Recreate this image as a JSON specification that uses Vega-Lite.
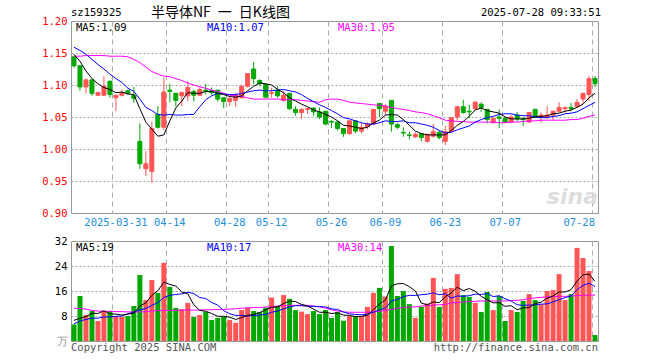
{
"$schema":"https://vega.github.io/schema/vega-lite/v6.json",
"background":"white",
"padding":{"left":41,"top":5,"right":0,"bottom":0},
"bounds":"flush",
"spacing":28,
"config":{"view":{"stroke":"#999999","strokeWidth":1},"axis":{"ticks":false,"domain":false,"labelFont":"DejaVu Sans Mono","labelFontSize":10.5,"gridColor":"#aaaaaa","labelOverlap":false}},
"datasets":{"k":[
{"d":"2025-03-20","o":1.144,"h":1.146,"l":1.127,"c":1.130,"v":5.3,"m5":1.148,"m10":1.159,"m30":1.145,"vm5":6.6,"vm10":5.5,"vm30":10.5},
{"d":"2025-03-21","o":1.130,"h":1.131,"l":1.091,"c":1.097,"v":14.4,"m5":1.137,"m10":1.154,"m30":1.145,"vm5":7.3,"vm10":6.4,"vm30":10.4},
{"d":"2025-03-24","o":1.097,"h":1.110,"l":1.087,"c":1.108,"v":8.3,"m5":1.122,"m10":1.148,"m30":1.146,"vm5":7.8,"vm10":6.9,"vm30":10.2},
{"d":"2025-03-25","o":1.108,"h":1.108,"l":1.083,"c":1.087,"v":9.6,"m5":1.110,"m10":1.140,"m30":1.146,"vm5":8.9,"vm10":7.3,"vm30":9.8},
{"d":"2025-03-26","o":1.084,"h":1.090,"l":1.083,"c":1.088,"v":6.4,"m5":1.102,"m10":1.132,"m30":1.146,"vm5":8.8,"vm10":7.3,"vm30":9.6},
{"d":"2025-03-27","o":1.084,"h":1.114,"l":1.083,"c":1.098,"v":9.6,"m5":1.096,"m10":1.125,"m30":1.146,"vm5":9.7,"vm10":7.7,"vm30":9.5},
{"d":"2025-03-28","o":1.106,"h":1.106,"l":1.080,"c":1.085,"v":9.6,"m5":1.093,"m10":1.117,"m30":1.145,"vm5":8.7,"vm10":7.7,"vm30":9.5},
{"d":"2025-03-31","o":1.080,"h":1.084,"l":1.059,"c":1.084,"v":8.0,"m5":1.088,"m10":1.110,"m30":1.145,"vm5":8.6,"vm10":7.9,"vm30":9.4},
{"d":"2025-04-01","o":1.084,"h":1.093,"l":1.082,"c":1.088,"v":7.7,"m5":1.089,"m10":1.104,"m30":1.145,"vm5":8.3,"vm10":8.0,"vm30":9.4},
{"d":"2025-04-02","o":1.091,"h":1.093,"l":1.084,"c":1.087,"v":8.0,"m5":1.086,"m10":1.095,"m30":1.144,"vm5":8.6,"vm10":8.7,"vm30":9.3},
{"d":"2025-04-03","o":1.084,"h":1.097,"l":1.072,"c":1.079,"v":11.2,"m5":1.085,"m10":1.090,"m30":1.140,"vm5":8.9,"vm10":9.3,"vm30":9.3},
{"d":"2025-04-07","o":1.012,"h":1.040,"l":0.969,"c":0.977,"v":21.1,"m5":1.063,"m10":1.078,"m30":1.135,"vm5":11.2,"vm10":9.95,"vm30":9.3},
{"d":"2025-04-08","o":0.969,"h":0.997,"l":0.958,"c":0.977,"v":13.1,"m5":1.042,"m10":1.065,"m30":1.128,"vm5":12.2,"vm10":10.4,"vm30":9.4},
{"d":"2025-04-09","o":0.965,"h":1.043,"l":0.947,"c":1.032,"v":19.5,"m5":1.031,"m10":1.060,"m30":1.121,"vm5":14.6,"vm10":11.4,"vm30":9.6},
{"d":"2025-04-10","o":1.054,"h":1.067,"l":1.032,"c":1.034,"v":15.4,"m5":1.020,"m10":1.054,"m30":1.117,"vm5":16.1,"vm10":12.3,"vm30":9.7},
{"d":"2025-04-11","o":1.034,"h":1.112,"l":1.029,"c":1.089,"v":25.0,"m5":1.022,"m10":1.053,"m30":1.114,"vm5":18.8,"vm10":13.9,"vm30":9.8},
{"d":"2025-04-14","o":1.092,"h":1.102,"l":1.073,"c":1.090,"v":17.3,"m5":1.044,"m10":1.054,"m30":1.113,"vm5":18.1,"vm10":14.6,"vm30":9.8},
{"d":"2025-04-15","o":1.087,"h":1.087,"l":1.067,"c":1.076,"v":10.6,"m5":1.064,"m10":1.053,"m30":1.110,"vm5":17.6,"vm10":14.9,"vm30":9.8},
{"d":"2025-04-16","o":1.083,"h":1.090,"l":1.067,"c":1.088,"v":10.2,"m5":1.075,"m10":1.053,"m30":1.107,"vm5":15.7,"vm10":15.1,"vm30":9.9},
{"d":"2025-04-17","o":1.083,"h":1.106,"l":1.075,"c":1.096,"v":12.2,"m5":1.088,"m10":1.054,"m30":1.103,"vm5":15.1,"vm10":15.6,"vm30":9.9},
{"d":"2025-04-18","o":1.090,"h":1.092,"l":1.074,"c":1.084,"v":7.7,"m5":1.087,"m10":1.054,"m30":1.100,"vm5":11.6,"vm10":15.2,"vm30":9.9},
{"d":"2025-04-21","o":1.084,"h":1.096,"l":1.083,"c":1.093,"v":8.3,"m5":1.087,"m10":1.066,"m30":1.097,"vm5":9.8,"vm10":13.9,"vm30":9.9},
{"d":"2025-04-22","o":1.092,"h":1.102,"l":1.085,"c":1.090,"v":9.3,"m5":1.090,"m10":1.077,"m30":1.095,"vm5":9.5,"vm10":13.6,"vm30":10.0},
{"d":"2025-04-23","o":1.091,"h":1.096,"l":1.084,"c":1.088,"v":6.7,"m5":1.090,"m10":1.083,"m30":1.092,"vm5":8.8,"vm10":12.3,"vm30":10.0},
{"d":"2025-04-24","o":1.092,"h":1.092,"l":1.074,"c":1.078,"v":7.4,"m5":1.087,"m10":1.087,"m30":1.090,"vm5":7.9,"vm10":11.5,"vm30":10.1},
{"d":"2025-04-25","o":1.080,"h":1.081,"l":1.064,"c":1.074,"v":7.7,"m5":1.085,"m10":1.086,"m30":1.087,"vm5":7.9,"vm10":9.7,"vm30":10.1},
{"d":"2025-04-28","o":1.074,"h":1.083,"l":1.067,"c":1.079,"v":6.7,"m5":1.082,"m10":1.085,"m30":1.084,"vm5":7.6,"vm10":8.7,"vm30":10.2},
{"d":"2025-04-29","o":1.076,"h":1.088,"l":1.066,"c":1.085,"v":5.8,"m5":1.081,"m10":1.085,"m30":1.083,"vm5":6.9,"vm10":8.2,"vm30":10.3},
{"d":"2025-04-30","o":1.080,"h":1.101,"l":1.079,"c":1.098,"v":9.9,"m5":1.083,"m10":1.087,"m30":1.082,"vm5":7.5,"vm10":8.2,"vm30":10.5},
{"d":"2025-05-06","o":1.098,"h":1.118,"l":1.096,"c":1.118,"v":10.7,"m5":1.091,"m10":1.089,"m30":1.080,"vm5":8.2,"vm10":8.0,"vm30":10.6},
{"d":"2025-05-07","o":1.125,"h":1.136,"l":1.101,"c":1.110,"v":9.6,"m5":1.098,"m10":1.091,"m30":1.078,"vm5":8.5,"vm10":8.2,"vm30":10.7},
{"d":"2025-05-08","o":1.107,"h":1.109,"l":1.098,"c":1.102,"v":9.3,"m5":1.103,"m10":1.092,"m30":1.078,"vm5":9.1,"vm10":8.3,"vm30":10.7},
{"d":"2025-05-09","o":1.101,"h":1.101,"l":1.079,"c":1.081,"v":10.7,"m5":1.102,"m10":1.091,"m30":1.078,"vm5":10.0,"vm10":8.5,"vm30":10.9},
{"d":"2025-05-12","o":1.087,"h":1.096,"l":1.080,"c":1.088,"v":13.9,"m5":1.100,"m10":1.091,"m30":1.078,"vm5":10.8,"vm10":9.2,"vm30":10.9},
{"d":"2025-05-13","o":1.092,"h":1.098,"l":1.080,"c":1.083,"v":11.2,"m5":1.093,"m10":1.092,"m30":1.078,"vm5":10.9,"vm10":9.6,"vm30":11.2},
{"d":"2025-05-14","o":1.076,"h":1.091,"l":1.074,"c":1.084,"v":14.7,"m5":1.088,"m10":1.093,"m30":1.077,"vm5":12.0,"vm10":10.3,"vm30":11.3},
{"d":"2025-05-15","o":1.087,"h":1.088,"l":1.061,"c":1.063,"v":13.5,"m5":1.080,"m10":1.091,"m30":1.077,"vm5":12.8,"vm10":10.9,"vm30":11.4},
{"d":"2025-05-16","o":1.062,"h":1.067,"l":1.052,"c":1.057,"v":9.9,"m5":1.075,"m10":1.089,"m30":1.077,"vm5":12.6,"vm10":11.3,"vm30":11.4},
{"d":"2025-05-19","o":1.057,"h":1.063,"l":1.047,"c":1.062,"v":9.4,"m5":1.070,"m10":1.085,"m30":1.076,"vm5":11.7,"vm10":11.3,"vm30":11.5},
{"d":"2025-05-20","o":1.062,"h":1.065,"l":1.055,"c":1.063,"v":8.6,"m5":1.066,"m10":1.079,"m30":1.075,"vm5":11.2,"vm10":11.1,"vm30":11.4},
{"d":"2025-05-21","o":1.064,"h":1.065,"l":1.052,"c":1.058,"v":9.6,"m5":1.061,"m10":1.074,"m30":1.074,"vm5":10.2,"vm10":11.1,"vm30":11.2},
{"d":"2025-05-22","o":1.058,"h":1.065,"l":1.047,"c":1.050,"v":8.6,"m5":1.058,"m10":1.069,"m30":1.073,"vm5":9.2,"vm10":11.0,"vm30":10.9},
{"d":"2025-05-23","o":1.059,"h":1.059,"l":1.037,"c":1.039,"v":9.9,"m5":1.054,"m10":1.065,"m30":1.077,"vm5":9.2,"vm10":10.9,"vm30":10.5},
{"d":"2025-05-26","o":1.043,"h":1.045,"l":1.033,"c":1.042,"v":7.4,"m5":1.050,"m10":1.060,"m30":1.078,"vm5":8.8,"vm10":10.3,"vm30":10.0},
{"d":"2025-05-27","o":1.042,"h":1.044,"l":1.029,"c":1.032,"v":9.3,"m5":1.044,"m10":1.055,"m30":1.078,"vm5":9.0,"vm10":10.1,"vm30":9.6},
{"d":"2025-05-28","o":1.032,"h":1.032,"l":1.019,"c":1.024,"v":6.5,"m5":1.037,"m10":1.049,"m30":1.076,"vm5":8.3,"vm10":9.3,"vm30":9.3},
{"d":"2025-05-29","o":1.024,"h":1.045,"l":1.022,"c":1.044,"v":8.0,"m5":1.036,"m10":1.047,"m30":1.073,"vm5":8.2,"vm10":8.7,"vm30":9.2},
{"d":"2025-05-30","o":1.044,"h":1.045,"l":1.025,"c":1.028,"v":7.9,"m5":1.034,"m10":1.044,"m30":1.072,"vm5":7.8,"vm10":8.5,"vm30":9.2},
{"d":"2025-06-03","o":1.028,"h":1.041,"l":1.024,"c":1.034,"v":8.0,"m5":1.032,"m10":1.041,"m30":1.071,"vm5":7.9,"vm10":8.4,"vm30":9.2},
{"d":"2025-06-04","o":1.035,"h":1.042,"l":1.031,"c":1.039,"v":10.9,"m5":1.034,"m10":1.039,"m30":1.070,"vm5":8.3,"vm10":8.6,"vm30":9.2},
{"d":"2025-06-05","o":1.039,"h":1.062,"l":1.037,"c":1.062,"v":15.4,"m5":1.041,"m10":1.039,"m30":1.069,"vm5":10.0,"vm10":9.2,"vm30":9.3},
{"d":"2025-06-06","o":1.071,"h":1.072,"l":1.050,"c":1.063,"v":17.0,"m5":1.045,"m10":1.041,"m30":1.068,"vm5":11.8,"vm10":10.0,"vm30":9.5},
{"d":"2025-06-09","o":1.059,"h":1.070,"l":1.053,"c":1.067,"v":14.2,"m5":1.053,"m10":1.044,"m30":1.067,"vm5":13.1,"vm10":10.5,"vm30":9.8},
{"d":"2025-06-10","o":1.076,"h":1.076,"l":1.027,"c":1.039,"v":30.4,"m5":1.054,"m10":1.043,"m30":1.065,"vm5":17.6,"vm10":12.8,"vm30":10.1},
{"d":"2025-06-11","o":1.038,"h":1.041,"l":1.031,"c":1.034,"v":14.4,"m5":1.053,"m10":1.043,"m30":1.063,"vm5":18.3,"vm10":13.3,"vm30":10.5},
{"d":"2025-06-12","o":1.026,"h":1.034,"l":1.019,"c":1.025,"v":16.0,"m5":1.046,"m10":1.044,"m30":1.062,"vm5":18.4,"vm10":14.2,"vm30":10.7},
{"d":"2025-06-13","o":1.022,"h":1.027,"l":1.015,"c":1.021,"v":11.8,"m5":1.037,"m10":1.041,"m30":1.060,"vm5":17.4,"vm10":14.6,"vm30":10.9},
{"d":"2025-06-16","o":1.019,"h":1.026,"l":1.017,"c":1.023,"v":7.4,"m5":1.028,"m10":1.041,"m30":1.058,"vm5":16.0,"vm10":14.6,"vm30":10.9},
{"d":"2025-06-17","o":1.024,"h":1.025,"l":1.012,"c":1.018,"v":10.9,"m5":1.024,"m10":1.039,"m30":1.057,"vm5":12.1,"vm10":14.8,"vm30":11.2},
{"d":"2025-06-18","o":1.012,"h":1.023,"l":1.010,"c":1.023,"v":12.0,"m5":1.022,"m10":1.037,"m30":1.055,"vm5":11.6,"vm10":15.0,"vm30":11.3},
{"d":"2025-06-19","o":1.020,"h":1.039,"l":1.018,"c":1.027,"v":20.2,"m5":1.022,"m10":1.034,"m30":1.052,"vm5":12.5,"vm10":15.4,"vm30":11.5},
{"d":"2025-06-20","o":1.026,"h":1.029,"l":1.015,"c":1.018,"v":10.9,"m5":1.022,"m10":1.029,"m30":1.049,"vm5":12.3,"vm10":14.8,"vm30":11.6},
{"d":"2025-06-23","o":1.012,"h":1.036,"l":1.006,"c":1.027,"v":16.7,"m5":1.022,"m10":1.025,"m30":1.045,"vm5":14.1,"vm10":15.1,"vm30":11.7},
{"d":"2025-06-24","o":1.028,"h":1.050,"l":1.027,"c":1.049,"v":17.0,"m5":1.029,"m10":1.026,"m30":1.044,"vm5":15.4,"vm10":13.7,"vm30":12.2},
{"d":"2025-06-25","o":1.050,"h":1.067,"l":1.044,"c":1.066,"v":21.4,"m5":1.037,"m10":1.030,"m30":1.043,"vm5":17.2,"vm10":14.4,"vm30":12.3},
{"d":"2025-06-26","o":1.066,"h":1.077,"l":1.055,"c":1.057,"v":14.7,"m5":1.043,"m10":1.033,"m30":1.043,"vm5":16.1,"vm10":14.3,"vm30":12.5},
{"d":"2025-06-27","o":1.059,"h":1.069,"l":1.048,"c":1.058,"v":14.1,"m5":1.051,"m10":1.036,"m30":1.042,"vm5":16.8,"vm10":14.5,"vm30":12.6},
{"d":"2025-06-30","o":1.063,"h":1.075,"l":1.062,"c":1.073,"v":12.2,"m5":1.061,"m10":1.042,"m30":1.042,"vm5":15.9,"vm10":15.0,"vm30":12.7},
{"d":"2025-07-01","o":1.070,"h":1.073,"l":1.058,"c":1.065,"v":9.3,"m5":1.064,"m10":1.046,"m30":1.042,"vm5":14.3,"vm10":14.9,"vm30":12.8},
{"d":"2025-07-02","o":1.062,"h":1.062,"l":1.040,"c":1.046,"v":15.7,"m5":1.060,"m10":1.049,"m30":1.042,"vm5":13.2,"vm10":15.2,"vm30":12.8},
{"d":"2025-07-03","o":1.041,"h":1.049,"l":1.040,"c":1.048,"v":9.9,"m5":1.058,"m10":1.051,"m30":1.042,"vm5":12.2,"vm10":14.2,"vm30":12.8},
{"d":"2025-07-04","o":1.050,"h":1.062,"l":1.033,"c":1.048,"v":14.4,"m5":1.056,"m10":1.054,"m30":1.041,"vm5":12.3,"vm10":14.5,"vm30":12.8},
{"d":"2025-07-07","o":1.048,"h":1.049,"l":1.041,"c":1.042,"v":6.4,"m5":1.050,"m10":1.055,"m30":1.041,"vm5":11.1,"vm10":13.5,"vm30":12.8},
{"d":"2025-07-08","o":1.042,"h":1.053,"l":1.041,"c":1.050,"v":9.9,"m5":1.047,"m10":1.055,"m30":1.042,"vm5":11.3,"vm10":12.8,"vm30":12.9},
{"d":"2025-07-09","o":1.053,"h":1.058,"l":1.043,"c":1.047,"v":9.3,"m5":1.047,"m10":1.053,"m30":1.042,"vm5":10.0,"vm10":11.6,"vm30":13.0},
{"d":"2025-07-10","o":1.047,"h":1.050,"l":1.036,"c":1.046,"v":12.8,"m5":1.047,"m10":1.052,"m30":1.043,"vm5":10.6,"vm10":11.4,"vm30":13.2},
{"d":"2025-07-11","o":1.042,"h":1.058,"l":1.041,"c":1.057,"v":15.0,"m5":1.048,"m10":1.052,"m30":1.044,"vm5":10.7,"vm10":11.5,"vm30":13.6},
{"d":"2025-07-14","o":1.062,"h":1.062,"l":1.049,"c":1.050,"v":13.1,"m5":1.050,"m10":1.050,"m30":1.044,"vm5":12.0,"vm10":11.6,"vm30":13.8},
{"d":"2025-07-15","o":1.050,"h":1.057,"l":1.041,"c":1.053,"v":11.8,"m5":1.051,"m10":1.049,"m30":1.045,"vm5":12.4,"vm10":11.8,"vm30":14.0},
{"d":"2025-07-16","o":1.049,"h":1.067,"l":1.048,"c":1.053,"v":16.0,"m5":1.052,"m10":1.049,"m30":1.045,"vm5":13.7,"vm10":11.9,"vm30":14.1},
{"d":"2025-07-17","o":1.053,"h":1.060,"l":1.044,"c":1.059,"v":16.3,"m5":1.055,"m10":1.051,"m30":1.045,"vm5":14.4,"vm10":12.5,"vm30":14.2},
{"d":"2025-07-18","o":1.059,"h":1.073,"l":1.057,"c":1.065,"v":21.4,"m5":1.056,"m10":1.052,"m30":1.045,"vm5":15.7,"vm10":13.2,"vm30":14.3},
{"d":"2025-07-21","o":1.063,"h":1.066,"l":1.057,"c":1.065,"v":13.1,"m5":1.059,"m10":1.055,"m30":1.045,"vm5":15.7,"vm10":13.9,"vm30":14.3},
{"d":"2025-07-22","o":1.065,"h":1.072,"l":1.059,"c":1.063,"v":15.0,"m5":1.061,"m10":1.056,"m30":1.046,"vm5":16.4,"vm10":14.4,"vm30":14.4},
{"d":"2025-07-23","o":1.066,"h":1.078,"l":1.064,"c":1.073,"v":29.8,"m5":1.065,"m10":1.058,"m30":1.046,"vm5":19.1,"vm10":16.4,"vm30":14.5},
{"d":"2025-07-24","o":1.078,"h":1.088,"l":1.070,"c":1.087,"v":26.6,"m5":1.070,"m10":1.063,"m30":1.048,"vm5":21.2,"vm10":17.8,"vm30":14.6},
{"d":"2025-07-25","o":1.085,"h":1.114,"l":1.075,"c":1.110,"v":22.4,"m5":1.080,"m10":1.068,"m30":1.051,"vm5":21.4,"vm10":18.5,"vm30":14.7},
{"d":"2025-07-28","o":1.110,"h":1.114,"l":1.097,"c":1.102,"v":1.9,"m5":1.087,"m10":1.073,"m30":1.053,"vm5":19.1,"vm10":17.4,"vm30":14.7}
]},
"vconcat":[
{
"width":527,"height":192,
"data":{"name":"k"},
"encoding":{"x":{"field":"d","type":"ordinal","scale":{"paddingInner":0,"paddingOuter":0},"axis":{"values":["2025-03-31","2025-04-14","2025-04-28","2025-05-12","2025-05-26","2025-06-09","2025-06-23","2025-07-07","2025-07-28"],"bandPosition":0,"grid":true,"gridDash":[5,4],"labelAngle":0,"labelPadding":4,"labelColor":"#1a8fe0","labelOverlap":false,"labelExpr":"datum.value == '2025-03-31' ? datum.value : substring(datum.value, 5)","labelAlign":{"condition":{"test":"datum.value == '2025-07-28'","value":"right"},"value":"center"},"title":null}}},
"layer":[
{"mark":{"type":"rule","strokeWidth":1},"encoding":{"y":{"field":"l","type":"quantitative","title":null,"scale":{"domain":[0.9,1.2],"zero":false,"nice":false},"axis":{"values":[0.9,0.95,1.0,1.05,1.1,1.15,1.2],"format":".2f","labelColor":"#ff0000","labelPadding":4,"labelOverlap":false,"grid":true,"gridDash":[2,2],"gridOpacity":{"condition":{"test":"datum.value < 0.91 || datum.value > 1.19","value":0},"value":1},"title":null}},"y2":{"field":"h"},"color":{"condition":{"test":"datum.c >= datum.o","value":"#ff5555"},"value":"#00a800"}}},
{"mark":{"type":"bar","width":4,"strokeWidth":1},"encoding":{"y":{"field":"o","type":"quantitative","title":null,"axis":{"values":[0.9,0.95,1.0,1.05,1.1,1.15,1.2],"format":".2f","labelColor":"#ff0000","labelPadding":4,"labelOverlap":false,"grid":true,"gridDash":[2,2],"gridOpacity":{"condition":{"test":"datum.value < 0.91 || datum.value > 1.19","value":0},"value":1},"title":null}},"y2":{"field":"c"},"fill":{"condition":{"test":"datum.c >= datum.o","value":"#ff5555"},"value":"#00a800"},"stroke":{"condition":{"test":"datum.c >= datum.o","value":"#ff5555"},"value":"#00a800"}}},
{"mark":{"type":"line","strokeWidth":1,"color":"#ff00ff"},"encoding":{"y":{"field":"m30","type":"quantitative","title":null,"axis":{"values":[0.9,0.95,1.0,1.05,1.1,1.15,1.2],"format":".2f","labelColor":"#ff0000","labelPadding":4,"labelOverlap":false,"grid":true,"gridDash":[2,2],"gridOpacity":{"condition":{"test":"datum.value < 0.91 || datum.value > 1.19","value":0},"value":1},"title":null}}}},
{"mark":{"type":"line","strokeWidth":1,"color":"#0000ff"},"encoding":{"y":{"field":"m10","type":"quantitative","title":null,"axis":{"values":[0.9,0.95,1.0,1.05,1.1,1.15,1.2],"format":".2f","labelColor":"#ff0000","labelPadding":4,"labelOverlap":false,"grid":true,"gridDash":[2,2],"gridOpacity":{"condition":{"test":"datum.value < 0.91 || datum.value > 1.19","value":0},"value":1},"title":null}}}},
{"mark":{"type":"line","strokeWidth":1,"color":"#000000"},"encoding":{"y":{"field":"m5","type":"quantitative","title":null,"axis":{"values":[0.9,0.95,1.0,1.05,1.1,1.15,1.2],"format":".2f","labelColor":"#ff0000","labelPadding":4,"labelOverlap":false,"grid":true,"gridDash":[2,2],"gridOpacity":{"condition":{"test":"datum.value < 0.91 || datum.value > 1.19","value":0},"value":1},"title":null}}}},
{"data":{"values":[{"t":"sina"}]},"mark":{"type":"text","align":"right","baseline":"alphabetic","font":"DejaVu Sans","fontSize":22,"fontStyle":"italic","fontWeight":"bold","color":"#dddddd","dx":3},"encoding":{"text":{"field":"t"},"x":{"datum":"2025-07-28","type":"ordinal"},"y":{"datum":0.914,"type":"quantitative","axis":{"values":[0.9,0.95,1.0,1.05,1.1,1.15,1.2],"format":".2f","labelColor":"#ff0000","labelPadding":4,"labelOverlap":false,"grid":true,"gridDash":[2,2],"gridOpacity":{"condition":{"test":"datum.value < 0.91 || datum.value > 1.19","value":0},"value":1},"title":null}}}},
{"data":{"values":[{"t":"MA5:1.09","k":"a"},{"t":"MA10:1.07","k":"b"},{"t":"MA30:1.05","k":"c"}]},"mark":{"type":"text","align":"left","baseline":"middle","font":"DejaVu Sans Mono","fontSize":10.5,"dy":7,"dx":{"expr":"datum.k == 'a' ? 2 : datum.k == 'b' ? 133 : 264"}},"encoding":{"text":{"field":"t"},"color":{"field":"k","type":"nominal","scale":{"domain":["a","b","c"],"range":["#000000","#0000ff","#ff00ff"]},"legend":null},"x":{"datum":"2025-03-20","type":"ordinal"},"y":{"datum":1.2,"type":"quantitative","axis":{"values":[0.9,0.95,1.0,1.05,1.1,1.15,1.2],"format":".2f","labelColor":"#ff0000","labelPadding":4,"labelOverlap":false,"grid":true,"gridDash":[2,2],"gridOpacity":{"condition":{"test":"datum.value < 0.91 || datum.value > 1.19","value":0},"value":1},"title":null}}}},
{"data":{"values":[{"t":"sz159325"}]},"mark":{"type":"text","align":"left","baseline":"middle","font":"DejaVu Sans Mono","fontSize":10.5,"color":"#000000","dx":-3,"dy":-8},"encoding":{"text":{"field":"t"},"x":{"datum":"2025-03-20","type":"ordinal"},"y":{"datum":1.2,"type":"quantitative","axis":{"values":[0.9,0.95,1.0,1.05,1.1,1.15,1.2],"format":".2f","labelColor":"#ff0000","labelPadding":4,"labelOverlap":false,"grid":true,"gridDash":[2,2],"gridOpacity":{"condition":{"test":"datum.value < 0.91 || datum.value > 1.19","value":0},"value":1},"title":null}}}},
{"data":{"values":[{"t":"半导体NF\u2002一\u2002日K线图"}]},"mark":{"type":"text","align":"left","baseline":"middle","font":"Noto Sans CJK SC","fontSize":14,"color":"#000000","dx":77,"dy":-8},"encoding":{"text":{"field":"t"},"x":{"datum":"2025-03-20","type":"ordinal"},"y":{"datum":1.2,"type":"quantitative","axis":{"values":[0.9,0.95,1.0,1.05,1.1,1.15,1.2],"format":".2f","labelColor":"#ff0000","labelPadding":4,"labelOverlap":false,"grid":true,"gridDash":[2,2],"gridOpacity":{"condition":{"test":"datum.value < 0.91 || datum.value > 1.19","value":0},"value":1},"title":null}}}},
{"data":{"values":[{"t":"2025-07-28 09:33:51"}]},"mark":{"type":"text","align":"right","baseline":"middle","font":"DejaVu Sans Mono","fontSize":10.5,"color":"#000000","dx":6,"dy":-8},"encoding":{"text":{"field":"t"},"x":{"datum":"2025-07-28","type":"ordinal"},"y":{"datum":1.2,"type":"quantitative","axis":{"values":[0.9,0.95,1.0,1.05,1.1,1.15,1.2],"format":".2f","labelColor":"#ff0000","labelPadding":4,"labelOverlap":false,"grid":true,"gridDash":[2,2],"gridOpacity":{"condition":{"test":"datum.value < 0.91 || datum.value > 1.19","value":0},"value":1},"title":null}}}}
]
},
{
"width":527,"height":100,
"data":{"name":"k"},
"encoding":{"x":{"field":"d","type":"ordinal","scale":{"paddingInner":0,"paddingOuter":0},"axis":{"values":["2025-03-31","2025-04-14","2025-04-28","2025-05-12","2025-05-26","2025-06-09","2025-06-23","2025-07-07","2025-07-28"],"bandPosition":0,"grid":true,"gridDash":[5,4],"labels":false,"title":null}}},
"layer":[
{"mark":{"type":"bar","width":5},"encoding":{"y":{"field":"v","type":"quantitative","title":null,"scale":{"domain":[0,32],"nice":false},"axis":{"values":[0,8,16,24,32],"labelOverlap":false,"labelExpr":"datum.value == 0 ? '万' : datum.label","labelColor":{"condition":{"test":"datum.value == 0","value":"#999999"},"value":"#000000"},"labelPadding":4,"grid":true,"gridDash":[2,2],"gridOpacity":{"condition":{"test":"datum.value == 0 || datum.value == 32","value":0},"value":1},"title":null}},"color":{"condition":{"test":"datum.c >= datum.o","value":"#ff5555"},"value":"#00a800"}}},
{"mark":{"type":"line","strokeWidth":1,"color":"#ff00ff"},"encoding":{"y":{"field":"vm30","type":"quantitative","title":null,"axis":{"values":[0,8,16,24,32],"labelOverlap":false,"labelExpr":"datum.value == 0 ? '万' : datum.label","labelColor":{"condition":{"test":"datum.value == 0","value":"#999999"},"value":"#000000"},"labelPadding":4,"grid":true,"gridDash":[2,2],"gridOpacity":{"condition":{"test":"datum.value == 0 || datum.value == 32","value":0},"value":1},"title":null}}}},
{"mark":{"type":"line","strokeWidth":1,"color":"#0000ff"},"encoding":{"y":{"field":"vm10","type":"quantitative","title":null,"axis":{"values":[0,8,16,24,32],"labelOverlap":false,"labelExpr":"datum.value == 0 ? '万' : datum.label","labelColor":{"condition":{"test":"datum.value == 0","value":"#999999"},"value":"#000000"},"labelPadding":4,"grid":true,"gridDash":[2,2],"gridOpacity":{"condition":{"test":"datum.value == 0 || datum.value == 32","value":0},"value":1},"title":null}}}},
{"mark":{"type":"line","strokeWidth":1,"color":"#000000"},"encoding":{"y":{"field":"vm5","type":"quantitative","title":null,"axis":{"values":[0,8,16,24,32],"labelOverlap":false,"labelExpr":"datum.value == 0 ? '万' : datum.label","labelColor":{"condition":{"test":"datum.value == 0","value":"#999999"},"value":"#000000"},"labelPadding":4,"grid":true,"gridDash":[2,2],"gridOpacity":{"condition":{"test":"datum.value == 0 || datum.value == 32","value":0},"value":1},"title":null}}}},
{"data":{"values":[{"t":"MA5:19","k":"a"},{"t":"MA10:17","k":"b"},{"t":"MA30:14","k":"c"}]},"mark":{"type":"text","align":"left","baseline":"middle","font":"DejaVu Sans Mono","fontSize":10.5,"dy":7,"dx":{"expr":"datum.k == 'a' ? 2 : datum.k == 'b' ? 133 : 264"}},"encoding":{"text":{"field":"t"},"color":{"field":"k","type":"nominal","scale":{"domain":["a","b","c"],"range":["#000000","#0000ff","#ff00ff"]},"legend":null},"x":{"datum":"2025-03-20","type":"ordinal"},"y":{"datum":32,"type":"quantitative","axis":{"values":[0,8,16,24,32],"labelOverlap":false,"labelExpr":"datum.value == 0 ? '万' : datum.label","labelColor":{"condition":{"test":"datum.value == 0","value":"#999999"},"value":"#000000"},"labelPadding":4,"grid":true,"gridDash":[2,2],"gridOpacity":{"condition":{"test":"datum.value == 0 || datum.value == 32","value":0},"value":1},"title":null}}}},
{"data":{"values":[{"t":"Copyright 2025 SINA.COM"}]},"mark":{"type":"text","align":"left","baseline":"middle","font":"DejaVu Sans Mono","fontSize":10.5,"color":"#555555","dx":-3,"dy":7},"encoding":{"text":{"field":"t"},"x":{"datum":"2025-03-20","type":"ordinal"},"y":{"datum":0,"type":"quantitative","axis":{"values":[0,8,16,24,32],"labelOverlap":false,"labelExpr":"datum.value == 0 ? '万' : datum.label","labelColor":{"condition":{"test":"datum.value == 0","value":"#999999"},"value":"#000000"},"labelPadding":4,"grid":true,"gridDash":[2,2],"gridOpacity":{"condition":{"test":"datum.value == 0 || datum.value == 32","value":0},"value":1},"title":null}}}},
{"data":{"values":[{"t":"http://finance.sina.com.cn"}]},"mark":{"type":"text","align":"right","baseline":"middle","font":"DejaVu Sans Mono","fontSize":10.5,"color":"#555555","dx":3,"dy":7},"encoding":{"text":{"field":"t"},"x":{"datum":"2025-07-28","type":"ordinal"},"y":{"datum":0,"type":"quantitative","axis":{"values":[0,8,16,24,32],"labelOverlap":false,"labelExpr":"datum.value == 0 ? '万' : datum.label","labelColor":{"condition":{"test":"datum.value == 0","value":"#999999"},"value":"#000000"},"labelPadding":4,"grid":true,"gridDash":[2,2],"gridOpacity":{"condition":{"test":"datum.value == 0 || datum.value == 32","value":0},"value":1},"title":null}}}}
]
}
]
}
